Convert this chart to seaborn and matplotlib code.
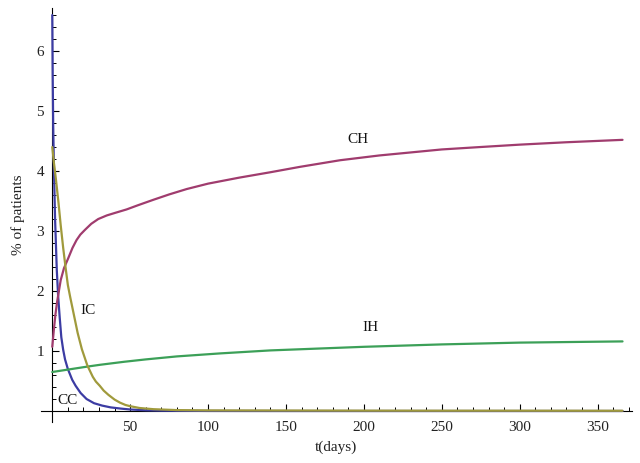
import matplotlib
matplotlib.use("Agg")
import matplotlib.pyplot as plt
import seaborn as sns
import pandas as pd
from matplotlib.ticker import FixedLocator

# ---- data ----
cc_t = [0, 0.3, 0.6, 1.1, 1.8, 2.9, 3.8, 4.8, 5.8, 7.0, 8.2, 10, 12.8, 15, 18.2, 22,
        26.8, 32, 37.5, 44, 50, 60, 70, 85, 100, 150, 200, 250, 300, 366]
cc_v = [6.6, 5.5, 4.75, 4.0, 3.2, 2.35, 1.9, 1.55, 1.23, 1.02, 0.86, 0.7, 0.52, 0.42, 0.3, 0.2,
        0.13, 0.09, 0.06, 0.04, 0.025, 0.012, 0.006, 0.003, 0.001, 0.0, 0.0, 0.0, 0.0, 0.0]

ch_t = [0, 1, 2, 3, 3.8, 5.4, 7.5, 10.3, 13, 15.6, 18, 21, 25, 29.5, 35, 40, 47.7, 55,
        64.8, 75, 86.3, 100, 120, 140, 159, 184.7, 210, 230, 250, 274.6, 300, 330, 366]
ch_v = [1.07, 1.35, 1.6, 1.8, 1.93, 2.18, 2.38, 2.55, 2.72, 2.85, 2.94, 3.02, 3.12, 3.2, 3.26,
        3.3, 3.36, 3.43, 3.52, 3.61, 3.7, 3.79, 3.89, 3.98, 4.07, 4.18, 4.26, 4.31, 4.36, 4.4,
        4.44, 4.48, 4.52]

ih_t = [0, 10, 22.5, 30.6, 46, 60, 80, 107.7, 140, 170, 200, 250, 300, 366]
ih_v = [0.65, 0.69, 0.74, 0.77, 0.82, 0.86, 0.91, 0.96, 1.01, 1.04, 1.07, 1.11, 1.14, 1.16]

ic_t = [0, 1, 2.4, 4, 5.4, 7, 8.6, 10, 11.5, 13.5, 16.3, 19, 22.5, 26, 28, 30.5, 33, 36, 40,
        43.4, 47, 50, 56, 65, 80, 100, 150, 200, 250, 300, 366]
ic_v = [4.4, 4.15, 3.85, 3.47, 3.1, 2.72, 2.38, 2.1, 1.9, 1.65, 1.3, 1.03, 0.76, 0.57, 0.49,
        0.42, 0.34, 0.27, 0.19, 0.14, 0.1, 0.08, 0.05, 0.03, 0.015, 0.01, 0.008, 0.006, 0.005,
        0.005, 0.004]

series_names = ["CC", "CH", "IH", "IC"]
x_major = [50, 100, 150, 200, 250, 300, 350]
y_major = [1, 2, 3, 4, 5, 6]

label_pos = {"CH": (196, 4.53), "IC": (23, 1.67), "IH": (204, 1.4), "CC": (10, 0.18)}
colors = {"CC": "#3c3ca3", "CH": "#a03c6e", "IH": "#3ca058", "IC": "#a09a3c"}

frames = []
for name, t, v in [("CC", cc_t, cc_v), ("CH", ch_t, ch_v), ("IH", ih_t, ih_v), ("IC", ic_t, ic_v)]:
    frames.append(pd.DataFrame({"t": t, "v": v, "series": name}))
df = pd.concat(frames, ignore_index=True)

sns.set_style("white")
plt.rcParams["font.family"] = ["Liberation Serif", "DejaVu Serif"]

fig = plt.figure(figsize=(6.4, 4.63), dpi=100)
ax = fig.add_axes([0.0639, 0.089, 0.9234, 0.894])

sns.lineplot(data=df, x="t", y="v", hue="series", hue_order=series_names,
             palette=colors, legend=False, linewidth=1.6, estimator=None,
             sort=True, ax=ax, zorder=3)

ax.set_xlim(-7.3, 372)
ax.set_ylim(-0.18, 6.72)

for s in ["top", "right"]:
    ax.spines[s].set_visible(False)
ax.spines["left"].set_position(("data", 0))
ax.spines["bottom"].set_position(("data", 0))
for s in ["left", "bottom"]:
    ax.spines[s].set_color("black")
    ax.spines[s].set_linewidth(0.8)

ax.xaxis.set_major_locator(FixedLocator(x_major))
ax.xaxis.set_minor_locator(FixedLocator([m for m in range(10, 371, 10) if m % 50 != 0]))
ax.yaxis.set_major_locator(FixedLocator(y_major))
ax.yaxis.set_minor_locator(FixedLocator([round(0.2 * i, 1) for i in range(1, 34) if i % 5 != 0]))
ax.set_xticklabels([str(v) for v in x_major])
ax.set_yticklabels([str(v) for v in y_major])

ax.tick_params(axis="both", which="both", bottom=True, left=True, top=False, right=False)
ax.tick_params(axis="both", which="major", direction="in", length=5, width=0.8,
               color="black", labelsize=11, labelcolor="#222222")
ax.tick_params(axis="both", which="minor", direction="in", length=3, width=0.7,
               color="black")
ax.tick_params(axis="x", which="major", pad=7)
ax.tick_params(axis="y", which="major", pad=6)

ax.set_xlabel("t(days)", fontsize=11, color="#222222")
ax.xaxis.set_label_coords(0.5, -0.045)
ax.set_ylabel("% of patients", fontsize=11, color="#222222")
ax.yaxis.set_label_coords(-0.027, 0.5)

for name, (lx, ly) in label_pos.items():
    ax.text(lx, ly, name, fontsize=11, ha="center", va="center", color="#111111")

fig.savefig("out.png", dpi=100)
